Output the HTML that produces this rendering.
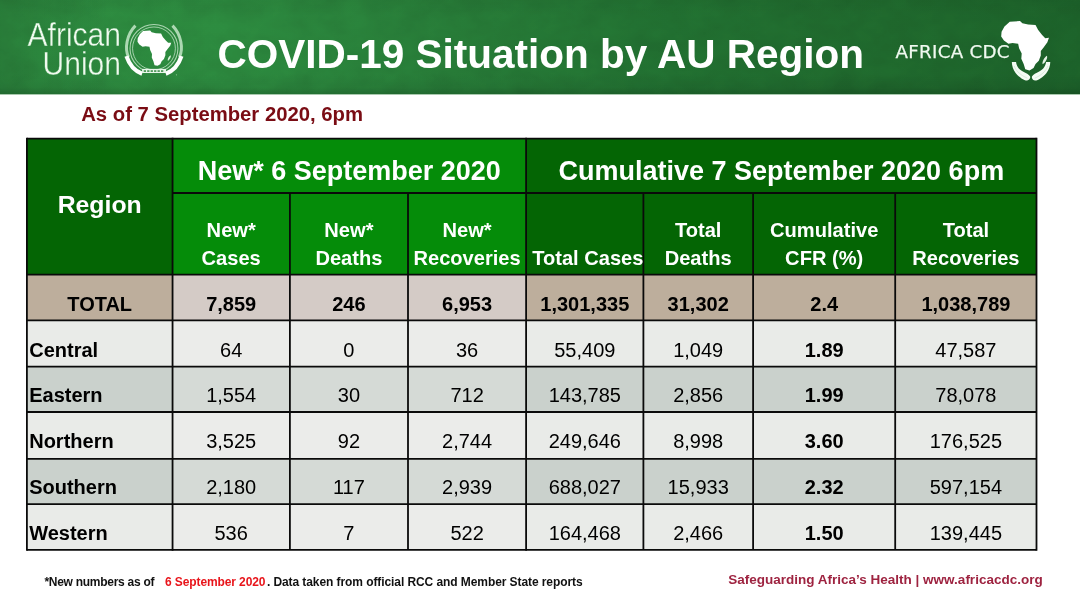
<!DOCTYPE html>
<html lang="en">
<head>
<meta charset="utf-8">
<title>COVID-19 Situation by AU Region</title>
<style>
html,body{margin:0;padding:0;background:#fff;}
body{width:1080px;height:608px;position:relative;overflow:hidden;font-family:"Liberation Sans",Arial,Helvetica,sans-serif;}
#hdr{position:absolute;left:0;top:0;width:1080px;height:94px;background:
linear-gradient(180deg,rgba(0,0,0,0.04) 0%,rgba(0,0,0,0) 18%,rgba(0,0,0,0) 78%,rgba(0,0,0,0.06) 93%,rgba(0,0,0,0.16) 100%),
linear-gradient(90deg,rgba(0,0,0,0.10) 0px,rgba(0,0,0,0) 110px),
linear-gradient(90deg,#2e8f41 0%,#2d8d40 22%,#287f39 42%,#227332 62%,#206c2e 82%,#1d652b 100%);}
#hdrline{position:absolute;left:0;top:94px;width:1080px;height:1px;background:#a9c9ae;}
#tex{position:absolute;left:0;top:0;width:1080px;height:94px;opacity:0.075;mix-blend-mode:multiply;}
#grid{position:absolute;left:0;top:0;}
.t{position:absolute;white-space:nowrap;line-height:0;height:0;color:#000;}
.c{transform:translateX(-50%);}
.h1{font-weight:bold;font-size:27px;color:#fff;}
.hr{font-weight:bold;font-size:24.8px;color:#fff;}
.h2{font-weight:bold;font-size:20.1px;color:#fff;}
.b{font-weight:bold;font-size:20px;}
.n{font-size:20px;}
#title{position:absolute;left:217.5px;top:53.6px;line-height:0;height:0;white-space:nowrap;font-weight:bold;font-size:40.5px;color:#fff;}
#asof{position:absolute;left:81.2px;top:113.8px;line-height:0;height:0;white-space:nowrap;font-weight:bold;font-size:20.3px;color:#7a0c14;}
#foot{position:absolute;left:44.4px;top:582.3px;line-height:0;height:0;white-space:nowrap;font-weight:bold;font-size:12px;color:#111;}
#foot span{position:absolute;left:0;top:0;}
#foot .f1{letter-spacing:-0.27px;}
#foot .f2{left:120.7px;letter-spacing:-0.11px;color:#e8151b;}
#foot .f3{left:222.5px;letter-spacing:-0.08px;}
#safe{position:absolute;left:728.3px;top:580.1px;line-height:0;height:0;white-space:nowrap;font-weight:bold;font-size:13.5px;color:#9e2340;}

.au{position:absolute;white-space:nowrap;line-height:0;height:0;font-size:33.2px;color:#f0faef;-webkit-text-stroke:0.4px #2e8c40;text-align:right;width:120px;left:0.6px;transform:scaleX(0.905);transform-origin:100% 50%;}
#au1{top:35.1px;}
#au2{top:63.9px;}
#auemb{position:absolute;left:120px;top:15px;width:70px;height:70px;}
#cdcemb{position:absolute;left:990px;top:10px;width:80px;height:80px;}
#cdct{position:absolute;left:895.6px;top:51.7px;line-height:0;height:0;white-space:nowrap;font-size:18.2px;letter-spacing:0.3px;color:#f0f9f0;-webkit-text-stroke:0.25px #f0f9f0;font-family:"DejaVu Sans","Liberation Sans",sans-serif;}
</style>
</head>
<body>
<div id="hdr"></div>
<svg id="tex" width="1080" height="94"><filter id="nz" x="0" y="0" width="100%" height="100%"><feTurbulence type="fractalNoise" baseFrequency="0.035 0.05" numOctaves="4" seed="7"/><feColorMatrix type="matrix" values="0 0 0 0 0  0 0 0 0 0  0 0 0 0 0  0.9 0.9 0.9 0 -0.9"/></filter><rect width="1080" height="94" filter="url(#nz)"/></svg>
<div id="hdrline"></div>
<svg id="grid" width="1080" height="608" viewBox="0 0 1080 608">
<rect x="26.9" y="138.6" width="145.7" height="136.1" fill="#046504"/>
<rect x="172.55" y="138.6" width="353.6" height="136.1" fill="#058c09"/>
<rect x="526.1" y="138.6" width="510.4" height="136.1" fill="#046504"/>
<rect x="26.9" y="274.7" width="145.7" height="45.6" fill="#bdae9c"/>
<rect x="172.55" y="274.7" width="353.6" height="45.6" fill="#d4cbc6"/>
<rect x="526.1" y="274.7" width="510.4" height="45.6" fill="#bdae9c"/>
<rect x="26.9" y="320.3" width="145.7" height="46.4" fill="#e9ebe8"/>
<rect x="172.55" y="320.3" width="353.6" height="46.4" fill="#ebecea"/>
<rect x="526.1" y="320.3" width="510.4" height="46.4" fill="#e9ebe8"/>
<rect x="26.9" y="366.7" width="145.7" height="45.3" fill="#cad1cc"/>
<rect x="172.55" y="366.7" width="353.6" height="45.3" fill="#d5dad6"/>
<rect x="526.1" y="366.7" width="510.4" height="45.3" fill="#cad1cc"/>
<rect x="26.9" y="412.0" width="145.7" height="46.8" fill="#e9ebe8"/>
<rect x="172.55" y="412.0" width="353.6" height="46.8" fill="#ebecea"/>
<rect x="526.1" y="412.0" width="510.4" height="46.8" fill="#e9ebe8"/>
<rect x="26.9" y="458.8" width="145.7" height="45.4" fill="#cad1cc"/>
<rect x="172.55" y="458.8" width="353.6" height="45.4" fill="#d5dad6"/>
<rect x="526.1" y="458.8" width="510.4" height="45.4" fill="#cad1cc"/>
<rect x="26.9" y="504.2" width="145.7" height="45.6" fill="#e9ebe8"/>
<rect x="172.55" y="504.2" width="353.6" height="45.6" fill="#ebecea"/>
<rect x="526.1" y="504.2" width="510.4" height="45.6" fill="#e9ebe8"/>
<g stroke="#0a0a0a" stroke-width="1.8">
<line x1="26.9" y1="138.6" x2="1036.5" y2="138.6"/>
<line x1="172.55" y1="193.0" x2="1036.5" y2="193.0"/>
<line x1="26.9" y1="274.7" x2="1036.5" y2="274.7"/>
<line x1="26.9" y1="320.3" x2="1036.5" y2="320.3"/>
<line x1="26.9" y1="366.7" x2="1036.5" y2="366.7"/>
<line x1="26.9" y1="412.0" x2="1036.5" y2="412.0"/>
<line x1="26.9" y1="458.8" x2="1036.5" y2="458.8"/>
<line x1="26.9" y1="504.2" x2="1036.5" y2="504.2"/>
<line x1="26.9" y1="549.8" x2="1036.5" y2="549.8"/>
<line x1="26.9" y1="137.7" x2="26.9" y2="550.6999999999999"/>
<line x1="172.55" y1="137.7" x2="172.55" y2="550.6999999999999"/>
<line x1="289.9" y1="193.0" x2="289.9" y2="549.8"/>
<line x1="408.0" y1="193.0" x2="408.0" y2="549.8"/>
<line x1="526.1" y1="137.7" x2="526.1" y2="550.6999999999999"/>
<line x1="643.4" y1="193.0" x2="643.4" y2="549.8"/>
<line x1="753.1" y1="193.0" x2="753.1" y2="549.8"/>
<line x1="895.2" y1="193.0" x2="895.2" y2="549.8"/>
<line x1="1036.5" y1="137.7" x2="1036.5" y2="550.6999999999999"/>
</g>
</svg>

<div id="au1" class="au">African</div>
<div id="au2" class="au">Union</div>
<svg id="auemb" width="80" height="80" viewBox="0 0 608 608">
<g fill="none" stroke="#d8f0da" stroke-opacity="0.75">
<circle cx="295" cy="290" r="208" stroke-width="9"/>
<circle cx="295" cy="290" r="186" stroke-width="8"/>
</g>
<!-- wreath -->
<g fill="none" stroke-linecap="butt">
<path d="M134 92 C 58 170, 38 290, 74 366" stroke="#cdeccf" stroke-opacity="0.8" stroke-width="26"/>
<path d="M456 92 C 532 170, 552 290, 516 366" stroke="#cdeccf" stroke-opacity="0.8" stroke-width="26"/>
<path d="M56 358 C 82 436, 128 488, 192 510" stroke="#ffffff" stroke-width="36"/>
<path d="M534 358 C 508 436, 462 488, 398 510" stroke="#ffffff" stroke-width="36"/>
</g>
<rect x="192" y="468" width="208" height="36" fill="#e9f6ea"/>
<g fill="#3f8f4c"><rect x="206" y="480" width="20" height="14"/><rect x="236" y="480" width="20" height="14"/><rect x="266" y="480" width="20" height="14"/><rect x="296" y="480" width="20" height="14"/><rect x="326" y="480" width="20" height="14"/><rect x="356" y="480" width="20" height="14"/></g>
<path id="afr1" fill="#ffffff" d="M200 140 L262 135 L275 150 L312 158 L357 160 L372 190 L398 222 L418 242 L445 240 L436 268 L410 300 L394 322 L394 350 L382 382 L362 402 L350 428 L326 441 L300 436 L290 402 L276 370 L278 338 L262 305 L256 276 L222 272 L196 276 L168 256 L152 232 L154 202 L172 168 Z"/>
<path fill="#d8f0da" d="M440 350 C 448 360, 430 392, 416 398 C 410 386, 424 358, 440 350 Z"/>
<circle cx="490" cy="520" r="5" fill="#bfe3c3" fill-opacity="0.7"/>
</svg>
<div id="cdct">AFRICA CDC</div>
<svg id="cdcemb" width="80" height="80" viewBox="0 0 608 608">
<path fill="#ffffff" d="M150 90 L228 84 L246 101 L290 111 L346 114 L365 150 L396 190 L420 214 L448 211 L436 246 L406 286 L386 311 L386 346 L371 386 L346 411 L331 441 L300 459 L268 451 L256 411 L238 371 L241 331 L221 291 L214 256 L171 251 L140 256 L106 231 L85 201 L88 165 L110 125 Z"/>
<path fill="#e4f3e5" d="M432 348 C 442 362, 420 404, 400 412 C 394 396, 412 360, 432 348 Z"/>
<path fill="#f4fbf4" d="M166 396 L198 396 C 202 425, 215 450, 250 468 C 275 480, 295 492, 304 504 C 310 516, 300 534, 282 536 C 255 534, 222 510, 196 480 C 176 455, 166 425, 166 396 Z"/>
<path fill="#f4fbf4" d="M458 396 L426 396 C 422 425, 409 450, 374 468 C 349 480, 329 492, 320 504 C 314 516, 324 534, 342 536 C 369 534, 402 510, 428 480 C 448 455, 458 425, 458 396 Z"/>
<g fill="none" stroke="#b4d4ba" stroke-width="4" stroke-opacity="0.8"><path d="M184 425 C 198 465, 236 498, 284 518"/><path d="M440 425 C 426 465, 388 498, 340 518"/></g>
</svg>
<div id="title">COVID-19 Situation by AU Region</div>
<div id="asof">As of 7 September 2020, 6pm</div>
<div class="t c hr" style="left:99.7px;top:205.4px;">Region</div>
<div class="t c h1" style="left:349.3px;top:171.1px;">New* 6 September 2020</div>
<div class="t c h1" style="left:781.3px;top:171.1px;">Cumulative 7 September 2020 6pm</div>
<div class="t c h2" style="left:231.2px;top:230.1px;">New*</div>
<div class="t c h2" style="left:231.2px;top:258.1px;">Cases</div>
<div class="t c h2" style="left:348.9px;top:230.1px;">New*</div>
<div class="t c h2" style="left:348.9px;top:258.1px;">Deaths</div>
<div class="t c h2" style="left:467.1px;top:230.1px;">New*</div>
<div class="t c h2" style="left:467.1px;top:258.1px;">Recoveries</div>
<div class="t c h2" style="left:587.8px;top:258.1px;">Total Cases</div>
<div class="t c h2" style="left:698.2px;top:230.1px;">Total</div>
<div class="t c h2" style="left:698.2px;top:258.1px;">Deaths</div>
<div class="t c h2" style="left:824.2px;top:230.1px;">Cumulative</div>
<div class="t c h2" style="left:824.2px;top:258.1px;">CFR (%)</div>
<div class="t c h2" style="left:965.9px;top:230.1px;">Total</div>
<div class="t c h2" style="left:965.9px;top:258.1px;">Recoveries</div>
<div class="t c b" style="left:99.7px;top:303.7px;">TOTAL</div>
<div class="t c b" style="left:231.2px;top:303.7px;">7,859</div>
<div class="t c b" style="left:348.9px;top:303.7px;">246</div>
<div class="t c b" style="left:467.1px;top:303.7px;">6,953</div>
<div class="t c b" style="left:584.8px;top:303.7px;">1,301,335</div>
<div class="t c b" style="left:698.2px;top:303.7px;">31,302</div>
<div class="t c b" style="left:824.2px;top:303.7px;">2.4</div>
<div class="t c b" style="left:965.9px;top:303.7px;">1,038,789</div>
<div class="t b" style="left:29.2px;top:349.5px;">Central</div>
<div class="t c n" style="left:231.2px;top:349.5px;">64</div>
<div class="t c n" style="left:348.9px;top:349.5px;">0</div>
<div class="t c n" style="left:467.1px;top:349.5px;">36</div>
<div class="t c n" style="left:584.8px;top:349.5px;">55,409</div>
<div class="t c n" style="left:698.2px;top:349.5px;">1,049</div>
<div class="t c b" style="left:824.2px;top:349.5px;">1.89</div>
<div class="t c n" style="left:965.9px;top:349.5px;">47,587</div>
<div class="t b" style="left:29.2px;top:395.4px;">Eastern</div>
<div class="t c n" style="left:231.2px;top:395.4px;">1,554</div>
<div class="t c n" style="left:348.9px;top:395.4px;">30</div>
<div class="t c n" style="left:467.1px;top:395.4px;">712</div>
<div class="t c n" style="left:584.8px;top:395.4px;">143,785</div>
<div class="t c n" style="left:698.2px;top:395.4px;">2,856</div>
<div class="t c b" style="left:824.2px;top:395.4px;">1.99</div>
<div class="t c n" style="left:965.9px;top:395.4px;">78,078</div>
<div class="t b" style="left:29.2px;top:441.2px;">Northern</div>
<div class="t c n" style="left:231.2px;top:441.2px;">3,525</div>
<div class="t c n" style="left:348.9px;top:441.2px;">92</div>
<div class="t c n" style="left:467.1px;top:441.2px;">2,744</div>
<div class="t c n" style="left:584.8px;top:441.2px;">249,646</div>
<div class="t c n" style="left:698.2px;top:441.2px;">8,998</div>
<div class="t c b" style="left:824.2px;top:441.2px;">3.60</div>
<div class="t c n" style="left:965.9px;top:441.2px;">176,525</div>
<div class="t b" style="left:29.2px;top:487.0px;">Southern</div>
<div class="t c n" style="left:231.2px;top:487.0px;">2,180</div>
<div class="t c n" style="left:348.9px;top:487.0px;">117</div>
<div class="t c n" style="left:467.1px;top:487.0px;">2,939</div>
<div class="t c n" style="left:584.8px;top:487.0px;">688,027</div>
<div class="t c n" style="left:698.2px;top:487.0px;">15,933</div>
<div class="t c b" style="left:824.2px;top:487.0px;">2.32</div>
<div class="t c n" style="left:965.9px;top:487.0px;">597,154</div>
<div class="t b" style="left:29.2px;top:532.9px;">Western</div>
<div class="t c n" style="left:231.2px;top:532.9px;">536</div>
<div class="t c n" style="left:348.9px;top:532.9px;">7</div>
<div class="t c n" style="left:467.1px;top:532.9px;">522</div>
<div class="t c n" style="left:584.8px;top:532.9px;">164,468</div>
<div class="t c n" style="left:698.2px;top:532.9px;">2,466</div>
<div class="t c b" style="left:824.2px;top:532.9px;">1.50</div>
<div class="t c n" style="left:965.9px;top:532.9px;">139,445</div>
<div id="foot"><span class="f1">*New numbers as of</span> <span class="f2">6 September 2020</span><span class="f3">. Data taken from official RCC and Member State reports</span></div>
<div id="safe">Safeguarding Africa’s Health | www.africacdc.org</div>
</body>
</html>
